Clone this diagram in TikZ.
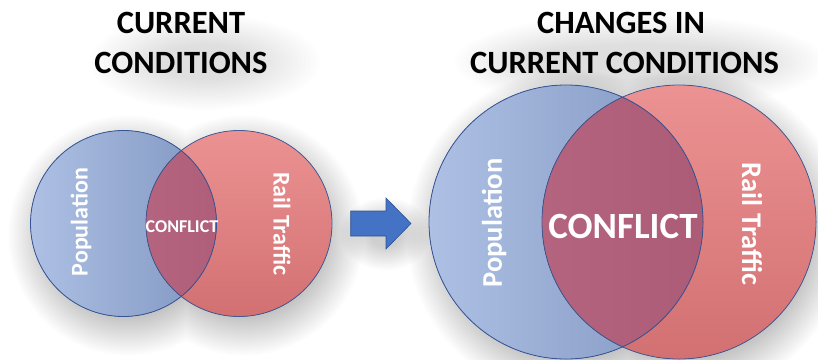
\documentclass[tikz,border=0pt]{standalone}
\usepackage{fontspec}
\setmainfont{Carlito}
\definecolor{blueL}{RGB}{174,192,228}
\definecolor{blueD}{RGB}{128,150,192}
\definecolor{redL}{RGB}{236,146,146}
\definecolor{redD}{RGB}{210,112,114}
\definecolor{ovL}{RGB}{180,100,126}
\definecolor{ovD}{RGB}{166,86,112}
\definecolor{edge}{RGB}{52,84,150}
\definecolor{arrowfill}{RGB}{68,114,196}
\definecolor{arrowedge}{RGB}{47,82,143}
\begin{document}
\begin{tikzpicture}[x=1pt,y=-1pt,
  title/.style={font=\bfseries\fontsize{32.5}{38}\selectfont, text=black, anchor=base, inner sep=0pt},
  lblS/.style={font=\bfseries\fontsize{24}{28}\selectfont, text=white, inner sep=0pt},
  lblL/.style={font=\bfseries\fontsize{28.5}{33}\selectfont, text=white, inner sep=0pt},
  conS/.style={font=\bfseries\fontsize{18}{22}\selectfont, text=white, inner sep=0pt},
  conL/.style={font=\bfseries\fontsize{37}{44}\selectfont, text=white, inner sep=0pt},
  outline/.style={draw=edge, line width=0.8pt},
  shadowlayer/.style={fill=black, opacity=0.012}
]
\useasboundingbox (0,0) rectangle (818,359);
\fill[white] (0,0) rectangle (818,359);

% centres
\coordinate (B1) at (123.5,223.5);
\coordinate (R1) at (239,223.5);
\coordinate (B2) at (566,222);
\coordinate (R2) at (679,222);

% soft shadows
\foreach \k [evaluate=\k as \ra using 120-2*\k, evaluate=\k as \rb using 164-2*\k] in {0,...,23}{
  \fill[shadowlayer] ([shift={(5,12)}]B1) circle (\ra pt) ([shift={(5,12)}]R1) circle (\ra pt);
  \fill[shadowlayer] ([shift={(5,12)}]B2) circle (\rb pt) ([shift={(5,12)}]R2) circle (\rb pt);
}
\foreach \k [evaluate=\k as \ea using 115-4.5*\k, evaluate=\k as \eb using 48-2*\k,
             evaluate=\k as \ec using 185-4.5*\k, evaluate=\k as \ed using 46-2*\k,
             evaluate=\k as \ee using 36-1.5*\k] in {0,...,15}{
  \fill[black, opacity=0.007] (205,62) ellipse (\ea pt and \eb pt);
  \fill[black, opacity=0.007] (640,62) ellipse (\ec pt and \eb pt);
  \fill[black, opacity=0.01] (386,234) ellipse (\ed pt and \ee pt);
}

% left Venn
\fill[left color=blueL, right color=blueD] (B1) circle (93pt);
\fill[shading angle=45, top color=redL, bottom color=redD] (R1) circle (93pt);
\begin{scope}
  \clip (B1) circle (93pt);
  \fill[left color=ovL, right color=ovD] (R1) circle (93pt);
\end{scope}
\draw[outline] (B1) circle (93pt);
\draw[outline, draw opacity=0.85] (R1) circle (93pt);

% right Venn
\fill[left color=blueL, right color=blueD] (B2) circle (137pt);
\fill[shading angle=45, top color=redL, bottom color=redD] (R2) circle (137pt);
\begin{scope}
  \clip (B2) circle (137pt);
  \fill[left color=ovL, right color=ovD] (R2) circle (137pt);
\end{scope}
\draw[outline] (B2) circle (137pt);
\draw[outline, draw opacity=0.85] (R2) circle (137pt);

% arrow
\filldraw[fill=arrowfill, draw=arrowedge, line width=0.6pt]
  (350.7,211) -- (386,211) -- (386,198) -- (411,223.5) -- (386,249) -- (386,236) -- (350.7,236) -- cycle;

% titles
\node[title] (t1a) at (181,33) {CURRENT};
\node[title] (t1b) at (181,73) {CONDITIONS};
\node[title] (t2a) at (621,33) {CHANGES IN};
\node[title] (t2b) at (624.5,73) {CURRENT CONDITIONS};

% labels
\node[lblS, rotate=90] (pop1) at (81,222) {Population};
\node[lblS, rotate=-90] (rail1) at (282,224) {Rail Traffic};
\node[conS] (con1) at (182,227) {CONFLICT};
\node[lblL, rotate=90] (pop2) at (494,223) {Population};
\node[lblL, rotate=-90] (rail2) at (752,224) {Rail Traffic};
\node[conL] (con2) at (623,226.5) {CONFLICT};
\end{tikzpicture}
\end{document}
